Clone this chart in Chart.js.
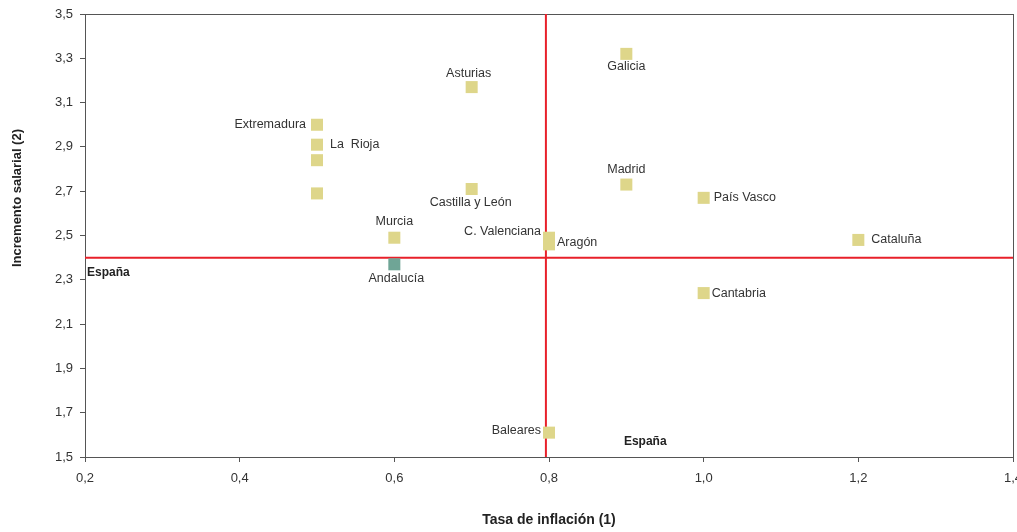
<!DOCTYPE html>
<html>
<head>
<meta charset="utf-8">
<script src="https://cdn.jsdelivr.net/npm/chart.js@4/dist/chart.umd.min.js"></script>
<style>
  html, body { margin: 0; padding: 0; background: #fff; }
  #wrap { width: 1017px; height: 532px; }
</style>
</head>
<body>
<div id="wrap"><canvas id="chart"></canvas></div>
<script>
// datos por comunidad
const regiones = ['Galicia', 'Asturias', 'Extremadura', 'La  Rioja', '', '', 'Castilla y León', 'Madrid', 'País Vasco',
  'Murcia', 'C. Valenciana', 'Aragón', 'Cataluña', 'Andalucía', 'Cantabria', 'Baleares']
const inflacion = [0.9, 0.7, 0.5, 0.5, 0.5, 0.5, 0.7, 0.9, 1.0, 0.6, 0.8, 0.8, 1.2, 0.6, 1.0, 0.8]
const salario = [3.32, 3.17, 3.0, 2.91, 2.84, 2.69, 2.71, 2.73, 2.67, 2.49, 2.49, 2.46, 2.48, 2.37, 2.24, 1.61]
const espanaInflacion = 0.796
const espanaSalario = 2.4
const xTicks = [0.2, 0.4, 0.6, 0.8, 1.0, 1.2, 1.4]
const yTicks = [1.5, 1.7, 1.9, 2.1, 2.3, 2.5, 2.7, 2.9, 3.1, 3.3, 3.5]

// donde va cada etiqueta respecto al punto: [dx, dy, align]
const etiquetaPos = [[0, 13, 'center'], [-3, -14, 'center'], [-11, 0, 'right'], [13, 0, 'left'], null, null,
  [-1, 14, 'center'], [0, -15, 'center'], [10, 0, 'left'], [0, -16, 'center'], [-8, -6, 'right'], [8, -2, 'left'],
  [13, 0, 'left'], [2, 14, 'center'], [8, 0, 'left'], [-8, -2, 'right']]

const FONT = '"Liberation Sans", Arial, sans-serif'
const fmt = v => v.toFixed(1).replace('.', ',')
const puntos = inflacion.map((x, i) => ({ x, y: salario[i] }))
const colores = regiones.map(r => r === 'Andalucía' ? '#6fa596' : '#ded68a')

const etiquetas = {
  id: 'etiquetas',
  afterDatasetsDraw(chart) {
    const ctx = chart.ctx
    const meta = chart.getDatasetMeta(0)
    const xs = chart.scales.x, ys = chart.scales.y
    const a = chart.chartArea
    ctx.save()
    ctx.font = '12.5px ' + FONT
    ctx.fillStyle = '#333'
    ctx.textBaseline = 'middle'
    meta.data.forEach((p, i) => {
      const pos = etiquetaPos[i]
      if (!pos || !regiones[i]) return
      ctx.textAlign = pos[2]
      ctx.fillText(regiones[i], p.x + pos[0], p.y + pos[1])
    })
    ctx.font = 'bold 12px ' + FONT
    ctx.fillStyle = '#222'
    ctx.textAlign = 'left'
    ctx.fillText('España', a.left + 2, ys.getPixelForValue(espanaSalario) + 15)
    ctx.fillText('España', xs.getPixelForValue(espanaInflacion) + 78, a.bottom - 15)
    // titulo eje y
    ctx.font = 'bold 13px ' + FONT
    ctx.translate(17, 198)
    ctx.rotate(-Math.PI / 2)
    ctx.textAlign = 'center'
    ctx.fillText('Incremento salarial (2)', 0, 0)
    ctx.restore()
  },
  beforeDatasetsDraw(chart) {
    const a = chart.chartArea
    const ctx = chart.ctx
    ctx.save()
    ctx.strokeStyle = '#555'
    ctx.lineWidth = 1
    ctx.strokeRect(a.left + 0.5, a.top + 0.5, a.right - a.left, a.bottom - a.top)
    ctx.restore()
  }
}

new Chart(document.getElementById('chart'), {
  type: 'scatter',
  data: {
    datasets: [
      { data: puntos, backgroundColor: colores, borderWidth: 0, pointStyle: 'rect', pointRadius: 8.5, order: 0 },
      { type: 'line', data: [{ x: 0.2, y: espanaSalario }, { x: 1.4, y: espanaSalario }], borderColor: '#e8202a', borderWidth: 2, pointRadius: 0, order: 1 },
      { type: 'line', data: [{ x: espanaInflacion, y: 1.5 }, { x: espanaInflacion, y: 3.5 }], borderColor: '#e8202a', borderWidth: 2, pointRadius: 0, order: 1 }
    ]
  },
  options: {
    responsive: true,
    maintainAspectRatio: false,
    animation: false,
    layout: { autoPadding: false, padding: { top: 14, right: 4, left: 0, bottom: 0 } },
    plugins: { legend: { display: false }, tooltip: { enabled: false } },
    scales: {
      x: {
        type: 'linear', min: 0.2, max: 1.4,
        afterBuildTicks: s => { s.ticks = xTicks.map(v => ({ value: v })) },
        afterFit: s => { s.height = 75; s.paddingLeft = 0; s.paddingRight = 0 },
        ticks: { callback: fmt, color: '#333', font: { family: FONT, size: 13 }, padding: 9, maxRotation: 0 },
        grid: { drawOnChartArea: false, tickLength: 5, color: '#555' },
        border: { color: '#555' },
        title: { display: true, text: 'Tasa de inflación (1)', color: '#222', font: { family: FONT, size: 14, weight: 'bold' }, padding: { top: 4, bottom: 3 } }
      },
      y: {
        type: 'linear', min: 1.5, max: 3.5,
        afterBuildTicks: s => { s.ticks = yTicks.map(v => ({ value: v })) },
        afterFit: s => { s.width = 85; s.paddingTop = 0; s.paddingBottom = 0 },
        ticks: { callback: fmt, color: '#333', font: { family: FONT, size: 13 }, padding: 7 },
        grid: { drawOnChartArea: false, tickLength: 5, color: '#555' },
        border: { color: '#555' }
      }
    }
  },
  plugins: [etiquetas]
})
</script>
</body>
</html>
